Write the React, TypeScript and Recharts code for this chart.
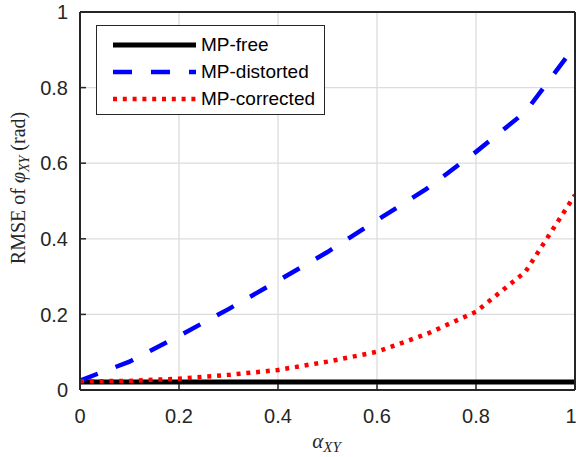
import React from "react";
import { LineChart, Line, XAxis, YAxis, CartesianGrid, Legend } from "recharts";

const alpha = [0, 0.1, 0.2, 0.3, 0.4, 0.5, 0.6, 0.7, 0.8, 0.9, 1.0];
const mpFree = [0.021, 0.021, 0.021, 0.021, 0.021, 0.021, 0.021, 0.021, 0.021, 0.021, 0.021];
const mpDistorted = [0.025, 0.075, 0.143, 0.214, 0.289, 0.365, 0.449, 0.532, 0.63, 0.736, 0.91];
const mpCorrected = [0.023, 0.024, 0.03, 0.04, 0.053, 0.075, 0.101, 0.148, 0.207, 0.313, 0.516];
const xTicks = [0, 0.2, 0.4, 0.6, 0.8, 1];
const yTicks = [0, 0.2, 0.4, 0.6, 0.8, 1];
const seriesNames = ["MP-free", "MP-distorted", "MP-corrected"];

const data = alpha.map((a, i) => ({
  a,
  free: mpFree[i],
  dist: mpDistorted[i],
  corr: mpCorrected[i],
}));

const AX = "#262626";
const tickFont = { fontFamily: "'Liberation Sans', Arial, sans-serif", fontSize: 20, fill: AX };
const fmt = (v: number) => (v === 0 ? "0" : v === 1 ? "1" : String(v));

const legendItems = [
  { name: seriesNames[0], color: "#000000", width: 5, dash: undefined as string | undefined },
  { name: seriesNames[1], color: "#0000ff", width: 4.5, dash: "19 19" },
  { name: seriesNames[2], color: "#ff0000", width: 4.5, dash: "4 5.8" },
];

const LegendBox = () => (
  <div
    style={{
      width: 229,
      height: 90,
      boxSizing: "border-box",
      border: `1.3px solid ${AX}`,
      background: "#fff",
      position: "relative",
    }}
  >
    {legendItems.map((it, i) => (
      <div key={it.name} style={{ position: "absolute", left: 0, top: 19 + i * 27 - 12, height: 24, width: 229 }}>
        <svg width={100} height={24} style={{ position: "absolute", left: 0, top: 0 }}>
          <line x1={16} x2={99} y1={12} y2={12} stroke={it.color} strokeWidth={it.width} strokeDasharray={it.dash} />
        </svg>
        <span
          style={{
            position: "absolute",
            left: 104,
            top: 0,
            lineHeight: "24px",
            fontFamily: "'Liberation Sans', Arial, sans-serif",
            fontSize: 19,
            color: "#000",
            whiteSpace: "nowrap",
          }}
        >
          {it.name}
        </span>
      </div>
    ))}
  </div>
);

const YLabel = (props: any) => {
  const vb = props.viewBox || { x: 0, y: 12, width: 80, height: 378 };
  const cx = vb.x + 25;
  const cy = vb.y + vb.height / 2 - 13;
  return (
    <text
      x={cx}
      y={cy}
      transform={`rotate(-90, ${cx}, ${cy})`}
      textAnchor="middle"
      fontFamily="'Liberation Serif', 'Times New Roman', serif"
      fontSize={20}
      fill={AX}
    >
      RMSE of <tspan fontStyle="italic">φ</tspan>
      <tspan fontStyle="italic" fontSize={14} dy={4}>XY</tspan>
      <tspan dy={-4}> (rad)</tspan>
    </text>
  );
};

const XLabel = (props: any) => {
  const vb = props.viewBox || { x: 80, y: 390, width: 495, height: 67 };
  const cx = vb.x + vb.width / 2 - 1;
  const cy = vb.y + 58;
  return (
    <text
      x={cx}
      y={cy}
      textAnchor="middle"
      fontFamily="'Liberation Serif', 'Times New Roman', serif"
      fontSize={21}
      fill={AX}
    >
      <tspan fontStyle="italic">α</tspan>
      <tspan fontStyle="italic" fontSize={15} dy={4}>XY</tspan>
    </text>
  );
};

export default function App() {
  return (
    <div style={{ position: "absolute", left: 0, top: 0, width: 576, height: 457, background: "#fff" }}>
      <LineChart width={576} height={457} data={data} margin={{ top: 0, right: 0, bottom: 0, left: 0 }}>
        <CartesianGrid xAxisId="b" yAxisId="l" stroke="#dcdcdc" strokeWidth={1.3} fill="none" />
        <XAxis
          xAxisId="b"
          dataKey="a"
          type="number"
          domain={[0, 1]}
          ticks={xTicks}
          tickFormatter={fmt}
          height={67}
          orientation="bottom"
          tickSize={-6}
          tickMargin={25}
          tick={tickFont}
          axisLine={{ stroke: AX, strokeWidth: 2 }}
          tickLine={{ stroke: AX, strokeWidth: 1.5 }}
          label={<XLabel />}
          allowDataOverflow
        />
        <XAxis
          xAxisId="t"
          dataKey="a"
          type="number"
          domain={[0, 1]}
          ticks={xTicks}
          height={12}
          orientation="top"
          tickSize={-6}
          tick={false}
          axisLine={{ stroke: AX, strokeWidth: 2 }}
          tickLine={{ stroke: AX, strokeWidth: 1.5 }}
        />
        <YAxis
          yAxisId="l"
          type="number"
          domain={[0, 1]}
          ticks={yTicks}
          tickFormatter={fmt}
          width={80}
          orientation="left"
          tickSize={-6}
          tickMargin={18}
          tick={tickFont}
          axisLine={{ stroke: AX, strokeWidth: 2 }}
          tickLine={{ stroke: AX, strokeWidth: 1.5 }}
          label={<YLabel />}
          allowDataOverflow
        />
        <YAxis
          yAxisId="r"
          type="number"
          domain={[0, 1]}
          ticks={yTicks}
          width={1}
          orientation="right"
          tickSize={-6}
          tick={false}
          axisLine={{ stroke: AX, strokeWidth: 2 }}
          tickLine={{ stroke: AX, strokeWidth: 1.5 }}
        />
        <Legend
          layout="vertical"
          align="center"
          verticalAlign="middle"
          wrapperStyle={{ left: 96, top: 25, width: 229, height: 90 }}
          content={() => <LegendBox />}
        />
        <Line
          xAxisId="b"
          yAxisId="l"
          type="linear"
          dataKey="free"
          name={seriesNames[0]}
          stroke="#000000"
          strokeWidth={5}
          dot={false}
          activeDot={false}
          isAnimationActive={false}
        />
        <Line
          xAxisId="b"
          yAxisId="l"
          type="linear"
          dataKey="dist"
          name={seriesNames[1]}
          stroke="#0000ff"
          strokeWidth={4.5}
          strokeDasharray="19 19"
          dot={false}
          activeDot={false}
          isAnimationActive={false}
        />
        <Line
          xAxisId="b"
          yAxisId="l"
          type="linear"
          dataKey="corr"
          name={seriesNames[2]}
          stroke="#ff0000"
          strokeWidth={4.5}
          strokeDasharray="4 5.8"
          dot={false}
          activeDot={false}
          isAnimationActive={false}
        />
      </LineChart>
    </div>
  );
}
